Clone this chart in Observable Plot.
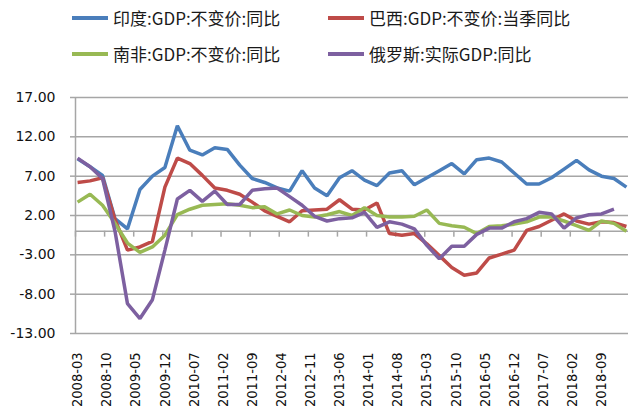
<!DOCTYPE html>
<html>
<head>
<meta charset="utf-8">
<script src="https://cdn.jsdelivr.net/npm/d3@7"></script>
<script src="https://cdn.jsdelivr.net/npm/@observablehq/plot@0.6"></script>
<style>
  body { margin: 0; background: #fff; font-family: "Noto Sans CJK SC", sans-serif; }
  #legend { position: relative; width: 628px; height: 80px; }
  .item { position: absolute; display: flex; align-items: center; font-size: 17px; color: #1a1a1a; white-space: nowrap; line-height: 1; }
  .sw { width: 36px; height: 4px; margin-right: 5px; }
</style>
</head>
<body>
<div id="legend"></div>
<div id="chart"></div>
<script>
// quarters shown (month of quarter end)
const quarters = [
  "2008-03","2008-06","2008-09","2008-12","2009-03","2009-06","2009-09","2009-12",
  "2010-03","2010-06","2010-09","2010-12","2011-03","2011-06","2011-09","2011-12",
  "2012-03","2012-06","2012-09","2012-12","2013-03","2013-06","2013-09","2013-12",
  "2014-03","2014-06","2014-09","2014-12","2015-03","2015-06","2015-09","2015-12",
  "2016-03","2016-06","2016-09","2016-12","2017-03","2017-06","2017-09","2017-12",
  "2018-03","2018-06","2018-09","2018-12","2019-03"
];

// 印度 GDP 不变价 同比
const india = [9.2, 8.2, 7.1, 1.6, 0.3, 5.3, 7.0, 8.1, 13.4, 10.3, 9.7, 10.6, 10.4, 8.4, 6.7, 6.2,
  5.5, 5.1, 7.7, 5.5, 4.5, 6.8, 7.7, 6.5, 5.8, 7.4, 7.7, 5.9, 6.8, 7.7, 8.6, 7.3,
  9.1, 9.3, 8.8, 7.4, 6.0, 6.0, 6.8, 7.9, 9.0, 7.8, 7.0, 6.7, 5.6];
// 巴西 GDP 不变价 当季同比
const brazil = [6.2, 6.4, 6.8, 1.5, -2.4, -2.0, -1.3, 5.6, 9.3, 8.6, 7.1, 5.5, 5.2, 4.7, 3.7, 2.6,
  1.9, 1.2, 2.6, 2.7, 2.8, 4.0, 2.8, 2.7, 3.6, -0.3, -0.5, -0.3, -1.6, -3.1, -4.6, -5.6,
  -5.3, -3.4, -2.9, -2.4, 0.1, 0.6, 1.4, 2.2, 1.3, 0.9, 1.2, 1.1, 0.6];
// 南非 GDP 不变价 同比
const southAfrica = [3.7, 4.7, 3.3, 1.0, -1.5, -2.7, -2.0, -0.5, 2.1, 2.8, 3.3, 3.4, 3.5, 3.3, 3.0, 3.1,
  2.2, 2.7, 2.0, 1.8, 2.1, 2.5, 2.0, 3.0, 2.0, 1.8, 1.8, 1.9, 2.7, 1.0, 0.7, 0.5,
  -0.3, 0.6, 0.7, 0.9, 1.2, 1.8, 1.8, 1.3, 0.7, 0.1, 1.3, 1.0, 0.0];
// 俄罗斯 实际GDP 同比 (no 2019-03 value)
const russia = [9.3, 8.2, 6.7, 0.0, -9.2, -11.1, -8.7, -2.4, 4.1, 5.2, 3.8, 5.1, 3.4, 3.4, 5.2, 5.4,
  5.5, 4.4, 3.3, 1.9, 1.3, 1.6, 1.7, 2.4, 0.5, 1.2, 0.9, 0.3, -1.8, -3.5, -1.9, -1.9,
  -0.4, 0.4, 0.4, 1.2, 1.6, 2.4, 2.2, 0.4, 1.7, 2.1, 2.2, 2.8, null];

const xTickLabels = ["2008-03","2008-10","2009-05","2009-12","2010-07","2011-02","2011-09",
  "2012-04","2012-11","2013-06","2014-01","2014-08","2015-03","2015-10","2016-05",
  "2016-12","2017-07","2018-02","2018-09"];
const yTicks = [-13, -8, -3, 2, 7, 12, 17];

const seriesNames = ["印度:GDP:不变价:同比", "巴西:GDP:不变价:当季同比", "南非:GDP:不变价:同比", "俄罗斯:实际GDP:同比"];
const seriesColors = ["#4a7ebb", "#be4b48", "#98b954", "#7d60a0"];
const seriesValues = [india, brazil, southAfrica, russia];

// month position on the category axis (one slot per month from 2008-03)
const monthIndex = s => (+s.slice(0, 4) - 2008) * 12 + (+s.slice(5, 7) - 3);

const rows = [];
seriesValues.forEach((vals, k) => {
  vals.forEach((v, i) => {
    if (v != null) rows.push({series: seriesNames[k], m: monthIndex(quarters[i]), v});
  });
});

const tickMonths = xTickLabels.map(monthIndex);
const labelAt = new Map(xTickLabels.map(s => [monthIndex(s), s]));
const slotEdges = tickMonths.map(m => m - 0.5);

// legend (above the svg)
const legendPos = [[72, 18], [328, 18], [72, 54], [328, 54]];
const legend = d3.select("#legend");
seriesNames.forEach((name, k) => {
  const it = legend.append("div").attr("class", "item")
    .style("left", legendPos[k][0] + "px")
    .style("top", (legendPos[k][1] - 9) + "px");
  it.append("div").attr("class", "sw").style("background", seriesColors[k]);
  it.append("span").text(name);
});

const gray = "#a6a6a6";

let chart = Plot.plot({
  width: 628,
  height: 335,
  marginTop: 17,
  marginBottom: 82,
  marginLeft: 75,
  marginRight: 0,
  x: {domain: [-0.5, 132.5]},
  y: {domain: [-13, 17]},
  color: {domain: seriesNames, range: seriesColors},
  style: {fontFamily: "Liberation Sans, Arial, sans-serif", fontSize: 13, color: "#111", background: "#fff"},
  marks: [
    Plot.gridY(yTicks, {stroke: gray, strokeOpacity: 1, strokeWidth: 1.5}),
    Plot.axisY(yTicks, {tickSize: 5, tickPadding: 15, stroke: gray, strokeOpacity: 1, strokeWidth: 1.5,
      tickFormat: d => d.toFixed(2), fontSize: 14, fontFamily: "DejaVu Sans", label: null}),
    Plot.ruleX([-0.5], {stroke: gray, strokeWidth: 1.5}),
    Plot.ruleY([0], {stroke: gray, strokeWidth: 1.5}),
    Plot.ruleX(slotEdges, {y1: 0, y2: -0.75, stroke: gray, strokeWidth: 1.5}),
    Plot.axisX(tickMonths, {tickSize: 0, tickPadding: 19, tickRotate: -90,
      tickFormat: d => labelAt.get(d), label: null,
      fontSize: 14.5, fontFamily: "Liberation Sans Narrow, DejaVu Sans Condensed, sans-serif"}),
    Plot.line(rows, {x: "m", y: "v", z: "series", stroke: "series", strokeWidth: 3.5,
      strokeLinejoin: "miter", strokeLinecap: "butt"})
  ]
});
d3.select("#chart").append(() => chart);
</script>
</body>
</html>
